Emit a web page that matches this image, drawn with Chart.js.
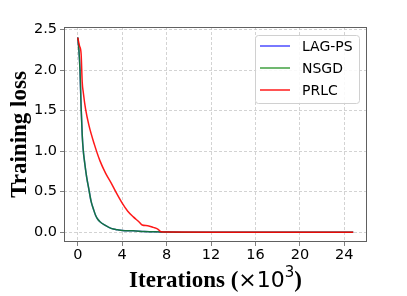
<!DOCTYPE html>
<html>
<head>
<meta charset="utf-8">
<title>Training loss</title>
<script src="https://cdn.jsdelivr.net/npm/chart.js"></script>
<style>
  html, body { margin: 0; padding: 0; background: #fff; }
  canvas { display: block; }
</style>
</head>
<body>
<canvas id="lossChart" width="407" height="296"></canvas>
<script>
// iterations in units of 10^3
const iters = [0, 0.1, 0.2, 0.3, 0.4, 0.5, 0.6, 0.8, 1.0, 1.2, 1.4, 1.6, 1.8, 2.0, 2.4, 2.8, 3.2, 3.6, 4.0, 5.0, 6.0, 7.0, 8.0, 10, 12, 16, 20, 24.8];
const lossNSGD = [2.40, 2.25, 2.00, 1.55, 1.20, 1.00, 0.88, 0.68, 0.53, 0.38, 0.29, 0.21, 0.16, 0.13, 0.09, 0.06, 0.04, 0.03, 0.022, 0.018, 0.01, 0.005, 0.002, 0.001, 0, 0, 0, 0];
const lossLAGPS = [2.40, 2.25, 2.00, 1.55, 1.20, 1.00, 0.88, 0.68, 0.53, 0.38, 0.29, 0.21, 0.16, 0.13, 0.09, 0.06, 0.04, 0.03, 0.022, 0.018, 0.01, 0.005, 0.002, 0.001, 0, 0, 0, 0];
const itersPRLC = [0, 0.15, 0.3, 0.4, 0.5, 0.7, 1.0, 1.5, 2.0, 2.5, 3.0, 3.5, 4.0, 4.5, 5.0, 5.5, 5.8, 6.3, 6.8, 7.2, 7.5, 8.0, 12, 16, 20, 24.8];
const lossPRLC = [2.40, 2.30, 2.20, 1.85, 1.72, 1.52, 1.32, 1.08, 0.88, 0.73, 0.61, 0.48, 0.36, 0.26, 0.19, 0.13, 0.09, 0.08, 0.06, 0.04, 0.005, 0.002, 0, 0, 0, 0];

const xTicks = [0, 4, 8, 12, 16, 20, 24];
const yTicks = [0, 0.5, 1.0, 1.5, 2.0, 2.5];
const yTickLabels = ['0.0', '0.5', '1.0', '1.5', '2.0', '2.5'];

const pts = (xs, ys) => xs.map((x, i) => ({ x: x, y: ys[i] }));

const frameAndText = {
  id: 'frameAndText',
  afterDraw(chart) {
    const { ctx, chartArea: a } = chart;
    ctx.save();
    // frame
    ctx.strokeStyle = '#606060';
    ctx.lineWidth = 1;
    ctx.strokeRect(a.left + 0.5, a.top + 0.5, a.right - a.left - 1, a.bottom - a.top - 1);

    // legend
    const lx = 255, ly = 35, lw = 104, lh = 68;
    ctx.fillStyle = 'rgba(255,255,255,0.85)';
    ctx.strokeStyle = '#d0d0d0';
    ctx.beginPath();
    ctx.roundRect(lx + 0.5, ly + 0.5, lw, lh, 3);
    ctx.fill();
    ctx.stroke();
    ctx.font = '14px "DejaVu Sans"';
    ctx.textBaseline = 'middle';
    ctx.textAlign = 'left';
    chart.data.datasets.forEach((ds, i) => {
      const y = 46 + i * 22;
      ctx.strokeStyle = ds.borderColor;
      ctx.lineWidth = 1.5;
      ctx.beginPath();
      ctx.moveTo(260, y);
      ctx.lineTo(290, y);
      ctx.stroke();
      ctx.fillStyle = '#000';
      ctx.fillText(ds.label, 302, y + 1);
    });

    // y title
    ctx.fillStyle = '#000';
    ctx.save();
    ctx.translate(19, (a.top + a.bottom) / 2);
    ctx.rotate(-Math.PI / 2);
    ctx.font = 'bold 23px "Liberation Serif"';
    ctx.textAlign = 'center';
    ctx.textBaseline = 'middle';
    ctx.fillText('Training loss', 0, 1);
    ctx.restore();

    // x title: bold serif words with a mathtext-like ×10^3
    const base = 287;
    const parts = [
      { t: 'Iterations (', f: 'bold 23px "Liberation Serif"', dy: 0 },
      { t: '×10', f: '22px "DejaVu Sans"', dy: 0 },
      { t: '3', f: '15px "DejaVu Sans"', dy: -10 },
      { t: ')', f: 'bold 23px "Liberation Serif"', dy: 0 }
    ];
    let total = 0;
    parts.forEach(p => { ctx.font = p.f; p.w = ctx.measureText(p.t).width; total += p.w; });
    let x = (a.left + a.right) / 2 - total / 2;
    ctx.textAlign = 'left';
    ctx.textBaseline = 'alphabetic';
    parts.forEach(p => {
      ctx.font = p.f;
      ctx.fillText(p.t, x, base + p.dy);
      x += p.w;
    });
    ctx.restore();
  }
};

new Chart(document.getElementById('lossChart'), {
  type: 'line',
  data: {
    datasets: [
      { label: 'LAG-PS', data: pts(iters, lossLAGPS), borderColor: 'rgba(0,0,255,0.7)', order: 3 },
      { label: 'NSGD', data: pts(iters, lossNSGD), borderColor: 'rgba(0,128,0,0.75)', order: 2 },
      { label: 'PRLC', data: pts(itersPRLC, lossPRLC), borderColor: 'rgba(255,0,0,0.9)', order: 1 }
    ]
  },
  options: {
    responsive: false,
    animation: false,
    devicePixelRatio: 1,
    layout: { padding: { left: 0, top: 27, right: 40, bottom: 0 } },
    elements: {
      point: { radius: 0 },
      line: { borderWidth: 1.5, cubicInterpolationMode: 'monotone', fill: false }
    },
    plugins: { legend: { display: false }, tooltip: { enabled: false } },
    scales: {
      x: {
        type: 'linear',
        min: -1.24,
        max: 26.04,
        afterBuildTicks: s => { s.ticks = xTicks.map(v => ({ value: v })); },
        afterFit: s => { s.height = 54; },
        ticks: {
          color: '#000',
          font: { family: 'DejaVu Sans', size: 14.5 },
          padding: 1,
          maxRotation: 0,
          callback: v => String(v)
        },
        grid: { color: '#c8c8c8', tickColor: '#606060', tickLength: 4, lineWidth: 0.8 },
        border: { display: false, dash: [3, 2] }
      },
      y: {
        min: -0.12,
        max: 2.53,
        afterBuildTicks: s => { s.ticks = yTicks.map(v => ({ value: v })); },
        afterFit: s => { s.width = 64; },
        ticks: {
          color: '#000',
          font: { family: 'DejaVu Sans', size: 14.5 },
          padding: 3,
          callback: v => yTickLabels[yTicks.indexOf(v)]
        },
        grid: { color: '#c8c8c8', tickColor: '#606060', tickLength: 4, lineWidth: 0.8 },
        border: { display: false, dash: [3, 2] }
      }
    }
  },
  plugins: [frameAndText]
});
</script>
</body>
</html>
